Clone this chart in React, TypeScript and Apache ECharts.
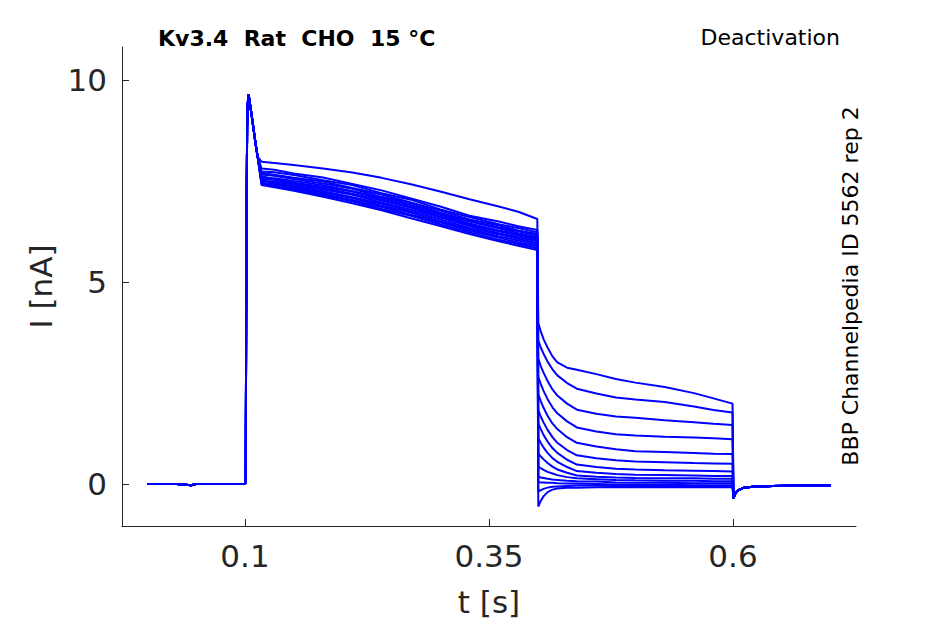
import React, { useEffect, useRef } from "react";
import * as echarts from "echarts";

// ---- data ----
const baseT = [0, 0.03, 0.045, 0.05, 0.07, 0.0995, 0.1008];
const baseI = [0, 0, -0.03, 0, 0, 0, 0.02];

const spikeT = [0.1012, 0.1022, 0.1033, 0.104, 0.1055, 0.107, 0.109, 0.111, 0.113];
const spikeI = [4.2, 8.9, 9.65, 9.6, 9.35, 9.1, 8.75, 8.4, 8.1];

const holdT = [0.117, 0.13, 0.15, 0.18, 0.21, 0.24, 0.27, 0.3, 0.33, 0.36, 0.38, 0.3995];
const hold00 = [7.98, 7.95, 7.9, 7.81, 7.71, 7.58, 7.42, 7.24, 7.05, 6.87, 6.74, 6.56];
const hold01 = [7.81, 7.78, 7.69, 7.59, 7.43, 7.27, 7.07, 6.87, 6.64, 6.5, 6.38, 6.29];
const hold02 = [7.74, 7.72, 7.65, 7.52, 7.4, 7.2, 7.04, 6.8, 6.61, 6.43, 6.34, 6.23];
const hold03 = [7.7, 7.66, 7.58, 7.49, 7.33, 7.17, 6.97, 6.77, 6.55, 6.4, 6.28, 6.19];
const hold04 = [7.66, 7.63, 7.55, 7.44, 7.31, 7.11, 6.95, 6.72, 6.52, 6.35, 6.26, 6.15];
const hold05 = [7.58, 7.57, 7.5, 7.4, 7.25, 7.09, 6.9, 6.69, 6.5, 6.33, 6.21, 6.11];
const hold06 = [7.62, 7.55, 7.46, 7.36, 7.24, 7.05, 6.86, 6.66, 6.45, 6.28, 6.18, 6.08];
const hold07 = [7.55, 7.53, 7.44, 7.33, 7.19, 7.02, 6.84, 6.62, 6.42, 6.26, 6.15, 6.05];
const hold08 = [7.5, 7.49, 7.41, 7.29, 7.16, 6.97, 6.79, 6.6, 6.39, 6.21, 6.11, 6.01];
const hold09 = [7.52, 7.45, 7.37, 7.25, 7.1, 6.94, 6.75, 6.55, 6.34, 6.18, 6.07, 5.96];
const hold10 = [7.46, 7.43, 7.34, 7.22, 7.08, 6.89, 6.72, 6.5, 6.31, 6.13, 6.03, 5.92];
const hold11 = [7.44, 7.39, 7.31, 7.18, 7.03, 6.86, 6.67, 6.48, 6.27, 6.1, 5.98, 5.88];
const hold12 = [7.42, 7.37, 7.28, 7.15, 7.0, 6.81, 6.64, 6.43, 6.23, 6.05, 5.94, 5.83];
const hold13 = [7.4, 7.35, 7.26, 7.11, 6.95, 6.78, 6.58, 6.39, 6.19, 6.01, 5.9, 5.79];

const tailT = [0.4005, 0.403, 0.406, 0.41, 0.415, 0.42, 0.43, 0.44, 0.46, 0.48, 0.5, 0.53, 0.56, 0.58, 0.5995];
const tail00 = [3.98, 3.78, 3.58, 3.38, 3.16, 3.01, 2.88, 2.83, 2.72, 2.6, 2.51, 2.4, 2.25, 2.12, 1.99];
const tail01 = [3.55, 3.38, 3.22, 3.03, 2.84, 2.69, 2.5, 2.36, 2.24, 2.14, 2.09, 2.03, 1.92, 1.83, 1.77];
const tail02 = [3.1, 2.92, 2.75, 2.55, 2.34, 2.19, 1.99, 1.84, 1.74, 1.67, 1.64, 1.58, 1.53, 1.49, 1.46];
const tail03 = [2.65, 2.48, 2.3, 2.1, 1.9, 1.75, 1.55, 1.4, 1.3, 1.23, 1.2, 1.17, 1.15, 1.13, 1.11];
const tail04 = [2.22, 2.05, 1.88, 1.69, 1.5, 1.36, 1.16, 1.02, 0.93, 0.86, 0.81, 0.79, 0.77, 0.75, 0.74];
const tail05 = [1.83, 1.67, 1.52, 1.34, 1.16, 1.02, 0.84, 0.71, 0.64, 0.59, 0.56, 0.54, 0.52, 0.51, 0.5];
const tail06 = [1.5, 1.36, 1.21, 1.05, 0.89, 0.77, 0.6, 0.48, 0.42, 0.38, 0.36, 0.34, 0.33, 0.32, 0.31];
const tail07 = [1.13, 1.02, 0.9, 0.77, 0.64, 0.55, 0.42, 0.32, 0.28, 0.25, 0.23, 0.22, 0.21, 0.2, 0.2];
const tail08 = [0.76, 0.68, 0.61, 0.52, 0.43, 0.36, 0.28, 0.21, 0.18, 0.16, 0.15, 0.14, 0.14, 0.13, 0.13];
const tail09 = [0.43, 0.39, 0.35, 0.3, 0.26, 0.22, 0.17, 0.14, 0.12, 0.1, 0.09, 0.08, 0.08, 0.07, 0.07];
const tail10 = [0.18, 0.16, 0.15, 0.13, 0.11, 0.1, 0.08, 0.07, 0.06, 0.04, 0.03, 0.03, 0.02, 0.02, 0.02];
const tail11 = [0.05, 0.04, 0.04, 0.03, 0.03, 0.02, 0.01, 0.01, 0.0, -0.01, -0.02, -0.02, -0.03, -0.03, -0.03];
const tail12 = [-0.19, -0.15, -0.12, -0.09, -0.07, -0.06, -0.05, -0.04, -0.04, -0.05, -0.05, -0.05, -0.06, -0.06, -0.06];
const tail13 = [-0.56, -0.42, -0.3, -0.2, -0.14, -0.11, -0.09, -0.09, -0.08, -0.08, -0.08, -0.08, -0.08, -0.08, -0.08];

const postT = [0.6005, 0.602, 0.605, 0.61, 0.62, 0.64, 0.67, 0.7];
const postI = [-0.35, -0.25, -0.16, -0.1, -0.07, -0.05, -0.04, -0.03];

const holds = [hold00, hold01, hold02, hold03, hold04, hold05, hold06, hold07, hold08, hold09, hold10, hold11, hold12, hold13];
const tails = [tail00, tail01, tail02, tail03, tail04, tail05, tail06, tail07, tail08, tail09, tail10, tail11, tail12, tail13];

const xTicks = [0.1, 0.35, 0.6];
const yTicks = [0, 5, 10];

const zip = (t: number[], v: number[]) => t.map((x, i) => [x, v[i]]);

const FONT = "DejaVu Sans";
const INK = "#262626";

export default function App() {
  const ref = useRef<HTMLDivElement>(null);
  useEffect(() => {
    if (!ref.current) return;
    const chart = echarts.init(ref.current, undefined, { renderer: "svg" });
    const series = holds.map((h, i) => ({
      type: "line",
      data: [
        ...zip(baseT, baseI),
        ...zip(spikeT, spikeI),
        ...zip(holdT, h),
        ...zip(tailT, tails[i]),
        ...zip(postT, postI),
      ],
      symbol: "none",
      showSymbol: false,
      silent: true,
      lineStyle: { color: "#0000ff", width: 2 },
    }));
    chart.setOption({
      animation: false,
      backgroundColor: "#ffffff",
      grid: { left: 122, right: 89, top: 47, bottom: 98 },
      xAxis: {
        type: "value",
        min: -0.026,
        max: 0.726,
        name: "t [s]",
        nameLocation: "middle",
        nameGap: 60,
        nameTextStyle: { fontSize: 31, color: INK, fontFamily: FONT },
        axisLine: { onZero: false, lineStyle: { color: INK, width: 1 } },
        axisTick: { inside: true, length: 7, customValues: xTicks, lineStyle: { color: INK } },
        axisLabel: { customValues: xTicks, fontSize: 31, color: INK, fontFamily: FONT, margin: 14 },
        splitLine: { show: false },
      },
      yAxis: {
        type: "value",
        min: -1.04,
        max: 10.82,
        name: "I [nA]",
        nameLocation: "middle",
        nameGap: 64,
        nameTextStyle: { fontSize: 31, color: INK, fontFamily: FONT },
        axisLine: { show: true, onZero: false, lineStyle: { color: INK, width: 1 } },
        axisTick: { show: true, inside: true, length: 7, customValues: yTicks, lineStyle: { color: INK } },
        axisLabel: { customValues: yTicks, fontSize: 31, color: INK, fontFamily: FONT, margin: 15 },
        splitLine: { show: false },
      },
      graphic: [
        {
          type: "text",
          left: 158,
          top: 27,
          style: { text: "Kv3.4  Rat  CHO  15 °C", font: `bold 22px '${FONT}'`, fill: "#000" },
        },
        {
          type: "text",
          right: 105,
          top: 26,
          style: { text: "Deactivation", font: `22px '${FONT}'`, fill: "#000" },
        },
        {
          type: "text",
          x: 850,
          y: 286,
          rotation: Math.PI / 2,
          style: {
            text: "BBP Channelpedia ID 5562 rep 2",
            font: `22px '${FONT}'`,
            fill: "#000",
            align: "center",
            verticalAlign: "middle",
          },
        },
      ],
      series,
    });
    return () => chart.dispose();
  }, []);
  return (
    <div
      ref={ref}
      style={{ position: "fixed", left: 0, top: 0, width: 945, height: 624, background: "#fff" }}
    />
  );
}
